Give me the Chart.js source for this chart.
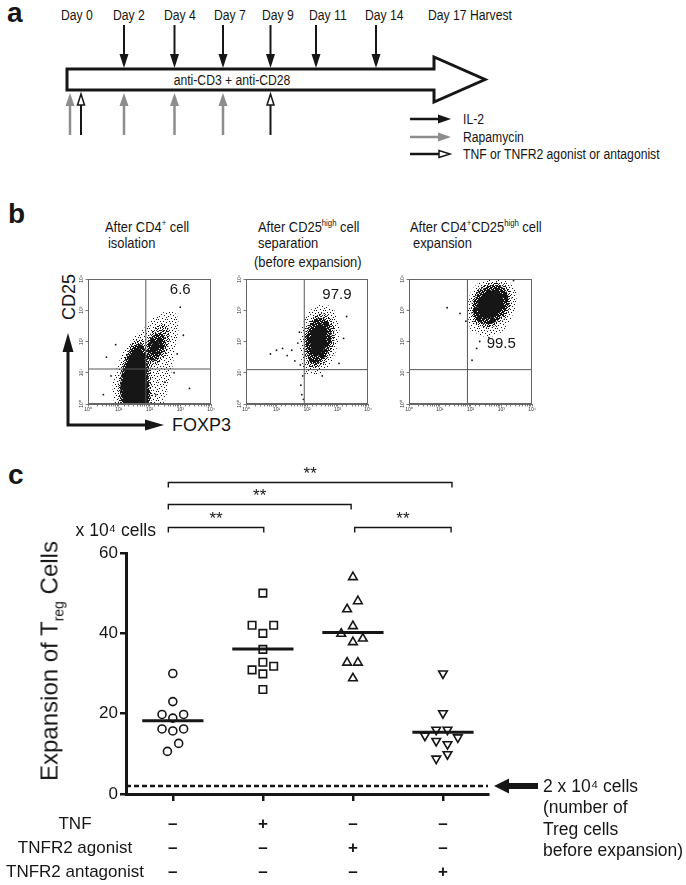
<!DOCTYPE html>
<html>
<head>
<meta charset="utf-8">
<script src="https://cdn.jsdelivr.net/npm/chart.js@4.4.1/dist/chart.umd.min.js"></script>
<style>
  body { margin: 0; background: #fff; }
  #fig { position: relative; width: 686px; height: 885px; overflow: hidden;
         font-family: "Liberation Sans", Arial, Helvetica, sans-serif; color: #161616; }
  .t { position: absolute; white-space: nowrap; line-height: 1; }
  .panel { font-weight: bold; font-size: 28px; }
  .hd { font-size: 15px; transform: scaleX(0.86); transform-origin: 0 0; }
  .hd sup { font-size: 9px; vertical-align: 6px; line-height: 0; }
  canvas, svg { position: absolute; }
</style>
</head>
<body>
<div id="fig">
  <div class="t panel" style="left:7px;top:-1px">a</div>
  <div class="t panel" style="left:8px;top:200px">b</div>
  <div class="t panel" style="left:8px;top:461px">c</div>

  <svg id="scheme" style="left:0;top:0" width="686" height="440"></svg>

  <div class="t hd" style="left:105px;top:219px">After CD4<sup>+</sup> cell</div>
  <div class="t hd" style="left:108px;top:235px">isolation</div>
  <div class="t hd" style="left:258px;top:219px">After CD25<sup>high</sup> cell</div>
  <div class="t hd" style="left:258px;top:235px">separation</div>
  <div class="t hd" style="left:254px;top:254px">(before expansion)</div>
  <div class="t hd" style="left:410px;top:219px">After CD4<sup>+</sup>CD25<sup>high</sup> cell</div>
  <div class="t hd" style="left:413px;top:235px">expansion</div>

  <div class="t" style="left:69px;top:297px;font-size:18px;transform:translate(-50%,-50%) rotate(-90deg)">CD25</div>
  <div class="t" style="left:172px;top:416px;font-size:18px">FOXP3</div>

  <canvas id="flow1"></canvas>
  <canvas id="flow2"></canvas>
  <canvas id="flow3"></canvas>

  <canvas id="c" width="686" height="435" style="left:0;top:450px"></canvas>
  <div class="t" style="left:51px;top:661px;font-size:24px;line-height:24px;transform:translate(-50%,-50%) rotate(-90deg)">Expansion of T<span style="font-size:14px;position:relative;top:6px">reg</span> Cells</div>
</div>

<script>
const ink = '#161616';
const FONT = '"Liberation Sans", Arial, sans-serif';
const sup = ['⁰', '¹', '²', '³', '⁴'];
Chart.defaults.font.family = FONT;
Chart.defaults.color = ink;

// ---------- panel a: protocol timeline ----------
const dayNames = ['Day 0', 'Day 2', 'Day 4', 'Day 7', 'Day 9', 'Day 11', 'Day 14', 'Day 17 Harvest'];
const dayX = [61, 113, 164, 214, 262, 309, 365, 428];
const il2X = [124, 174.5, 223, 270.5, 316, 376];
const rapaX = [70, 124, 174.5, 223];
const tnfX = [81, 270.5];
const legendNames = ['IL-2', 'Rapamycin', 'TNF or TNFR2 agonist or antagonist'];
const grey = '#8d8d8d';

const svg = document.getElementById('scheme');
function el(tag, attrs, text) {
  const e = document.createElementNS('http://www.w3.org/2000/svg', tag);
  for (const k in attrs) e.setAttribute(k, attrs[k]);
  if (text != null) e.textContent = text;
  svg.appendChild(e);
  return e;
}
// condensed text, like the narrow Helvetica of the figure
function label(x, y, s, anchor) {
  return el('text', {transform: `translate(${x},${y}) scale(0.87,1)`, 'font-size': 14, fill: ink,
    'font-family': FONT, 'text-anchor': anchor || 'start'}, s);
}
dayNames.forEach((d, i) => label(dayX[i], 20, d));
il2X.forEach(x => {
  el('line', {x1: x, y1: 25, x2: x, y2: 57, stroke: ink, 'stroke-width': 2});
  el('polygon', {points: `${x - 4.5},54 ${x + 4.5},54 ${x},68`, fill: ink});
});
el('polygon', {points: '67,69 434,69 434,57 485,79.5 434,102 434,90 67,90', fill: '#fff', stroke: ink, 'stroke-width': 3});
label(232, 84.5, 'anti-CD3 + anti-CD28', 'middle');
rapaX.forEach(x => {
  el('line', {x1: x, y1: 135, x2: x, y2: 104, stroke: grey, 'stroke-width': 2.5});
  el('polygon', {points: `${x - 4.5},106 ${x + 4.5},106 ${x},93`, fill: grey});
});
tnfX.forEach(x => {
  el('line', {x1: x, y1: 135, x2: x, y2: 105, stroke: ink, 'stroke-width': 2});
  el('polygon', {points: `${x - 3.5},105 ${x + 3.5},105 ${x},94`, fill: '#fff', stroke: ink, 'stroke-width': 1.5});
});
[119, 137, 154].forEach((y, i) => {
  const col = i === 1 ? grey : ink;
  el('line', {x1: 410, y1: y, x2: 440, y2: y, stroke: col, 'stroke-width': 2.5});
  if (i === 2) el('polygon', {points: `439,${y - 3.5} 439,${y + 3.5} 450,${y}`, fill: '#fff', stroke: ink, 'stroke-width': 1.5});
  else el('polygon', {points: `438,${y - 4.5} 438,${y + 4.5} 451,${y}`, fill: col});
  label(463, y + 5, legendNames[i]);
});
// CD25 / FOXP3 axis arrows of panel b
el('polyline', {points: '68,352 68,425 146,425', fill: 'none', stroke: ink, 'stroke-width': 3});
el('polygon', {points: '62.5,352 73.5,352 68,333', fill: ink});
el('polygon', {points: '145,419.5 145,430.5 164,425', fill: ink});

// ---------- panel b: flow plots (log10 units: x = FOXP3, y = CD25) ----------
const flowHalo1 = [[0.85,0],[0.8,0.6],[0.95,1.2],[1.2,1.75],[1.5,2.15],[1.8,2.4],[2.1,2.75],[2.5,2.95],[2.85,2.9],[2.95,2.5],[2.85,1.9],[2.75,1.2],[2.6,0.5],[2.4,0]];
const flowMid1a = [[1.0,0],[0.98,0.5],[1.05,1.0],[1.2,1.5],[1.4,1.9],[1.6,2.05],[1.85,2.0],[2.0,1.5],[2.05,0.8],[2.0,0]];
const flowMid1b = [[1.85,1.3],[1.9,1.9],[2.1,2.35],[2.35,2.55],[2.6,2.45],[2.65,2.0],[2.5,1.55],[2.25,1.3],[2.0,1.2]];
const flowDense1a = [[1.08,0],[1.05,0.5],[1.1,1.0],[1.24,1.45],[1.42,1.78],[1.6,1.92],[1.8,1.85],[1.92,1.45],[1.97,0.8],[1.95,0]];
const flowDense1b = [[1.9,1.45],[1.97,1.95],[2.15,2.22],[2.4,2.25],[2.52,2.0],[2.4,1.6],[2.15,1.4]];
const flowCore1a = [[1.15,0],[1.12,0.5],[1.18,1.0],[1.3,1.4],[1.45,1.68],[1.6,1.8],[1.75,1.72],[1.85,1.4],[1.9,0.8],[1.9,0]];
const flowCore1b = [[2.0,1.65],[2.08,1.92],[2.25,2.02],[2.33,1.88],[2.22,1.68]];
const flowDots1 = [[0.5,0.3],[0.6,1.5],[0.75,0.9],[2.9,1.6],[3.1,2.2],[2.2,0.3],[2.5,0.7],[3.3,0.5],[2.8,1.0],[0.9,1.9],[3.0,3.1]];

const flowHalo2 = [[1.95,0.95],[1.8,1.5],[1.8,2.3],[2.0,2.85],[2.35,3.15],[2.8,3.1],[3.05,2.6],[3.0,1.9],[2.75,1.25],[2.4,0.95]];
const flowMid2 = [[2.05,1.2],[1.92,1.7],[1.93,2.25],[2.1,2.65],[2.4,2.9],[2.75,2.8],[2.9,2.35],[2.85,1.8],[2.6,1.35],[2.3,1.15]];
const flowDense2 = [[2.1,1.32],[1.98,1.75],[2.0,2.22],[2.15,2.58],[2.42,2.75],[2.7,2.6],[2.8,2.2],[2.72,1.75],[2.5,1.4],[2.3,1.28]];
const flowCore2 = [[2.2,1.55],[2.12,1.85],[2.14,2.2],[2.27,2.45],[2.45,2.55],[2.6,2.4],[2.63,2.1],[2.55,1.75],[2.38,1.55]];
const flowDots2 = [[0.8,1.6],[1.0,1.72],[1.2,1.78],[1.35,1.55],[1.5,1.72],[1.6,1.38],[1.75,2.3],[1.8,0.6],[1.83,0.3],[1.86,0.9],[1.88,0.15],[3.05,1.3],[3.2,2.1],[1.78,1.25],[1.7,1.95],[3.3,2.8],[2.5,0.9]];

const flowHalo3 = [[2.0,2.35],[1.9,2.95],[2.0,3.55],[2.3,3.9],[2.85,3.98],[3.35,3.85],[3.5,3.4],[3.35,2.8],[3.0,2.3],[2.5,2.15]];
const flowMid3 = [[2.1,2.6],[2.02,3.05],[2.15,3.55],[2.45,3.8],[2.9,3.88],[3.25,3.7],[3.33,3.25],[3.15,2.8],[2.8,2.5],[2.4,2.45]];
const flowDense3 = [[2.15,2.7],[2.08,3.1],[2.22,3.52],[2.5,3.74],[2.88,3.8],[3.17,3.6],[3.22,3.2],[3.05,2.85],[2.72,2.58],[2.4,2.58]];
const flowCore3 = [[2.28,2.88],[2.22,3.15],[2.35,3.45],[2.58,3.6],[2.88,3.62],[3.04,3.45],[3.05,3.15],[2.9,2.9],[2.62,2.75],[2.42,2.76]];
const flowDots3 = [[2.05,1.4],[2.2,1.78],[1.24,3.08],[1.66,2.9],[2.3,2.0],[2.6,2.12],[1.85,2.65],[3.4,3.95]];

const flowGates = [[1.88, 1.12], [1.91, 1.1], [1.9, 1.1]];
const flowPct = ['6.6', '97.9', '99.5'];
const flowPctAt = [[3.0, 3.65], [2.98, 3.48], [3.0, 1.94]];

function stipple(n, cells) {
  const c = document.createElement('canvas');
  c.width = c.height = n;
  const g = c.getContext('2d');
  g.fillStyle = ink;
  cells.forEach(p => g.fillRect(p[0], p[1], 1, 1));
  return g.createPattern(c, 'repeat');
}
const sparseFill = stipple(9, [[0,0],[4,1],[7,2],[2,3],[5,5],[8,6],[1,6],[3,8],[6,8],[0,4]]);
const midFill = stipple(5, [[0,0],[2,0],[4,1],[1,2],[3,2],[0,3],[4,3],[2,4]]);
const denseFill = stipple(4, [[0,0],[2,0],[3,0],[0,1],[1,1],[2,1],[1,2],[2,2],[3,2],[0,3],[1,3],[3,3]]);

function flowPlot(id, left, right, layers, dots, gate, pct, pctAt) {
  const cv = document.getElementById(id);
  cv.width = right - left + 42;
  cv.height = 152;
  cv.style.left = (left - 30) + 'px';
  cv.style.top = '268px';
  const toPts = pts => pts.map(p => ({x: Math.pow(10, p[0]), y: Math.pow(10, p[1])}));
  const shape = (pts, fillStyle, order) => ({
    type: 'line', data: toPts(pts.concat([pts[0]])), fill: 'shape', backgroundColor: fillStyle,
    borderWidth: 0, pointRadius: 0, tension: 0.35, order: order
  });
  const datasets = [];
  layers.halo.forEach(p => datasets.push(shape(p, sparseFill, 5)));
  layers.mid.forEach(p => datasets.push(shape(p, midFill, 4)));
  layers.dense.forEach(p => datasets.push(shape(p, denseFill, 3)));
  layers.core.forEach(p => datasets.push(shape(p, ink, 2)));
  datasets.push({type: 'scatter', data: toPts(dots), pointRadius: 0.9, backgroundColor: ink, borderWidth: 0, order: 1});
  datasets.push({type: 'line', data: toPts([[gate[0], 0], [gate[0], 4]]), borderColor: '#555', borderWidth: 1, pointRadius: 0, order: 0});
  datasets.push({type: 'line', data: toPts([[0, gate[1]], [4, gate[1]]]), borderColor: '#555', borderWidth: 1, pointRadius: 0, order: 0});

  new Chart(cv, {
    type: 'scatter',
    data: {datasets: datasets},
    options: {
      responsive: false,
      animation: false,
      layout: {padding: {left: 16, right: 12, top: 11, bottom: 6}, autoPadding: false},
      plugins: {legend: {display: false}, tooltip: {enabled: false}},
      scales: {
        x: {
          type: 'logarithmic', min: 1, max: 10000,
          border: {display: true, color: '#666', width: 1},
          grid: {drawOnChartArea: false, drawTicks: true, tickLength: 2.5, color: '#555', lineWidth: 0.8},
          ticks: {font: {size: 5}, padding: 0, maxRotation: 0, autoSkip: false, color: '#333',
            callback: v => {
              const e = Math.log10(v);
              return Math.abs(e - Math.round(e)) < 1e-9 ? '10' + sup[Math.round(e)] : '';
            }},
          afterFit: s => { s.height = 10; }
        },
        y: {
          type: 'logarithmic', min: 1, max: 10000,
          border: {display: true, color: '#666', width: 1},
          grid: {drawOnChartArea: false, drawTicks: true, tickLength: 2.5, color: '#555', lineWidth: 0.8},
          ticks: {display: false},
          afterBuildTicks: s => { s.ticks = [1, 10, 100, 1000, 10000].map(v => ({value: v})); },
          afterFit: s => { s.width = 14; }
        }
      }
    },
    plugins: [{
      id: 'frame' + id,
      afterDraw(chart) {
        const {ctx, chartArea: a, scales} = chart;
        ctx.save();
        ctx.strokeStyle = '#666';
        ctx.lineWidth = 1;
        ctx.strokeRect(a.left + 0.5, a.top + 0.5, a.right - a.left - 1, a.bottom - a.top - 1);
        ctx.fillStyle = '#333';
        ctx.font = '5px ' + FONT;
        ctx.textAlign = 'center';
        ctx.textBaseline = 'middle';
        [0, 1, 2, 3, 4].forEach(e => {
          ctx.save();
          ctx.translate(a.left - 6, scales.y.getPixelForValue(Math.pow(10, e)));
          ctx.rotate(-Math.PI / 2);
          ctx.fillText('10' + sup[e], 0, 0);
          ctx.restore();
        });
        ctx.fillStyle = ink;
        ctx.font = '15px ' + FONT;
        ctx.fillText(pct, scales.x.getPixelForValue(Math.pow(10, pctAt[0])), scales.y.getPixelForValue(Math.pow(10, pctAt[1])));
        ctx.restore();
      }
    }]
  });
}

flowPlot('flow1', 88, 211, {halo: [flowHalo1], mid: [flowMid1a, flowMid1b], dense: [flowDense1a, flowDense1b], core: [flowCore1a, flowCore1b]}, flowDots1, flowGates[0], flowPct[0], flowPctAt[0]);
flowPlot('flow2', 246, 368, {halo: [flowHalo2], mid: [flowMid2], dense: [flowDense2], core: [flowCore2]}, flowDots2, flowGates[1], flowPct[1], flowPctAt[1]);
flowPlot('flow3', 409, 532, {halo: [flowHalo3], mid: [flowMid3], dense: [flowDense3], core: [flowCore3]}, flowDots3, flowGates[2], flowPct[2], flowPctAt[2]);

// ---------- panel c: Treg expansion (x 10^4 cells) ----------
const ctrlX = [1, 1, 0.88, 1, 1.12, 0.88, 1, 1.12, 1.065, 0.94];
const ctrlY = [30, 23, 19.8, 18.9, 19.8, 16.2, 15.7, 16.2, 12.6, 10.6];
const tnfXs = [2, 1.88, 2.12, 2, 2, 2, 2.12, 1.88, 2, 2];
const tnfY = [50, 42, 42, 40, 36, 32.8, 31.8, 30.9, 29.9, 26];
const agoX = [3, 3.055, 2.935, 3, 2.87, 3.11, 3, 2.935, 3.055, 3];
const agoY = [54, 48, 46, 41.8, 39.9, 38.7, 37.8, 32.7, 32.7, 28.8];
const antX = [4, 4, 3.925, 4.05, 3.8, 4.165, 3.925, 4.05, 4.05, 3.925];
const antY = [30, 20.1, 16, 16, 14.5, 14.1, 13.2, 12.4, 9.9, 8.8];
const groupMeans = [18.25, 36.1, 40.2, 15.4];
const baselineCells = 2;
const treatRows = ['TNF', 'TNFR2 agonist', 'TNFR2 antagonist'];
const treatSigns = [['–', '+', '–', '–'], ['–', '–', '+', '–'], ['–', '–', '–', '+']];
// [from group, to group, height] of the ** comparison brackets
const brackets = [[0.95, 4.1, 77.6], [0.95, 2.98, 72.1], [0.95, 2.01, 66.4], [3.02, 4.09, 66.4]];
const noteLines = ['2 x 10⁴ cells', '(number of', 'Treg cells', 'before expansion)'];

const xy = (xs, ys) => xs.map((x, i) => ({x: x, y: ys[i]}));
const marker = (xs, ys, style, r, rot) => ({
  data: xy(xs, ys), pointStyle: style, pointRadius: r, pointRotation: rot || 0,
  borderColor: ink, backgroundColor: 'rgba(0,0,0,0)', pointBorderWidth: 1.6, borderWidth: 1.6, order: 0
});
const meanLines = groupMeans.map((m, i) => ({
  type: 'line', data: [{x: i + 1 - 0.34, y: m}, {x: i + 1 + 0.34, y: m}],
  borderColor: ink, borderWidth: 3, pointRadius: 0, order: 1
}));

const decor = {
  id: 'decor',
  afterDraw(chart) {
    const {ctx, chartArea: a, scales: {x, y}} = chart;
    ctx.save();
    ctx.strokeStyle = ink;
    ctx.fillStyle = ink;
    ctx.lineWidth = 1.4;
    ctx.textAlign = 'center';
    ctx.textBaseline = 'alphabetic';
    ctx.font = '17px ' + FONT;
    brackets.forEach(b => {
      const x1 = x.getPixelForValue(b[0]), x2 = x.getPixelForValue(b[1]), yy = Math.round(y.getPixelForValue(b[2])) + 0.5;
      ctx.beginPath();
      ctx.moveTo(x1, yy + 5); ctx.lineTo(x1, yy); ctx.lineTo(x2, yy); ctx.lineTo(x2, yy + 5);
      ctx.stroke();
      ctx.fillText('**', (x1 + x2) / 2, yy - 4);
    });
    ctx.textAlign = 'right';
    ctx.font = '17.5px ' + FONT;
    ctx.fillText('x 10⁴ cells', 156, y.getPixelForValue(65.7) + 6);

    // treatment table
    treatRows.forEach((r, i) => {
      const ty = a.bottom + 30 + i * 24;
      ctx.textAlign = 'center';
      ctx.textBaseline = 'middle';
      ctx.font = '17px ' + FONT;
      ctx.fillText(r, 75, ty);
      ctx.font = 'bold 17px ' + FONT;
      treatSigns[i].forEach((s, j) => ctx.fillText(s, x.getPixelForValue(j + 1), ty));
    });

    // arrow and note for the starting cell number
    const yv = y.getPixelForValue(baselineCells);
    const tip = a.right + 6;
    ctx.beginPath();
    ctx.moveTo(tip, yv);
    ctx.lineTo(tip + 15, yv - 7.5);
    ctx.lineTo(tip + 15, yv - 3);
    ctx.lineTo(tip + 44, yv - 3);
    ctx.lineTo(tip + 44, yv + 3);
    ctx.lineTo(tip + 15, yv + 3);
    ctx.lineTo(tip + 15, yv + 7.5);
    ctx.closePath();
    ctx.fill();
    ctx.textAlign = 'left';
    ctx.textBaseline = 'middle';
    ctx.font = '17.5px ' + FONT;
    noteLines.forEach((t, i) => ctx.fillText(t, a.right + 55, yv + 1 + i * 21.5));
    ctx.restore();
  }
};

new Chart(document.getElementById('c'), {
  type: 'scatter',
  data: {
    datasets: [
      marker(ctrlX, ctrlY, 'circle', 4),
      marker(tnfXs, tnfY, 'rect', 5.3),
      marker(agoX, agoY, 'triangle', 5),
      marker(antX, antY, 'triangle', 5, 180),
      ...meanLines,
      {type: 'line', data: [{x: 0.48, y: baselineCells}, {x: 4.5, y: baselineCells}],
       borderColor: ink, borderWidth: 2.5, borderDash: [5, 3], pointRadius: 0, order: 1}
    ]
  },
  options: {
    responsive: false,
    animation: false,
    layout: {padding: {left: 86, right: 198, top: 103, bottom: 79}, autoPadding: false},
    plugins: {legend: {display: false}, tooltip: {enabled: false}},
    scales: {
      x: {
        type: 'linear', min: 0.48, max: 4.5,
        border: {display: true, color: ink, width: 3},
        grid: {drawOnChartArea: false, drawTicks: true, tickLength: 7, color: ink, lineWidth: 2.5},
        ticks: {display: false},
        afterBuildTicks: s => { s.ticks = [1, 2, 3, 4].map(v => ({value: v})); },
        afterFit: s => { s.height = 12; }
      },
      y: {
        min: 0, max: 60,
        border: {display: true, color: ink, width: 3},
        grid: {drawOnChartArea: false, drawTicks: true, tickLength: 6, color: ink, lineWidth: 2.5},
        ticks: {stepSize: 20, font: {size: 17}, color: ink, padding: 2},
        afterFit: s => { s.width = 40; }
      }
    }
  },
  plugins: [decor]
});
</script>
</body>
</html>
